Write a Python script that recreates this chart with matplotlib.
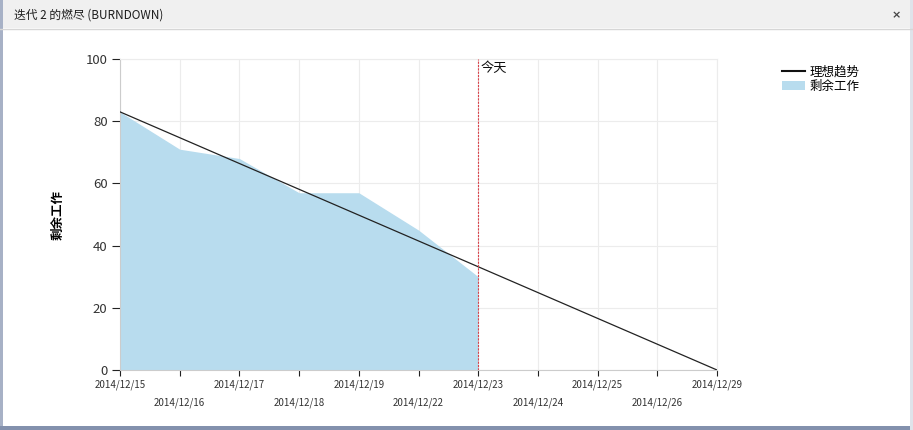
import matplotlib
matplotlib.use("Agg")
import matplotlib.pyplot as plt
from matplotlib.patches import Rectangle
from matplotlib.lines import Line2D
from matplotlib.patches import Patch

plt.rcParams['font.family'] = ['Noto Sans CJK SC', 'DejaVu Sans']

# Data
dates = ["2014/12/15", "2014/12/16", "2014/12/17", "2014/12/18", "2014/12/19",
         "2014/12/22", "2014/12/23", "2014/12/24", "2014/12/25", "2014/12/26",
         "2014/12/29"]
remaining = [83, 71, 68, 57, 57, 45, 30]
ideal_ends = [83, 0]
today = "2014/12/23"
y_ticks = [0, 20, 40, 60, 80, 100]

W, H = 913, 430
fig = plt.figure(figsize=(W / 100, H / 100), dpi=100)
fig.patch.set_facecolor("white")

# window chrome
fig.add_artist(Rectangle((0, 1 - 28 / H), 1, 28 / H, transform=fig.transFigure,
                         facecolor="#f0f0f0", edgecolor="none", zorder=0))
fig.add_artist(Line2D([0, 1], [1 - 28.5 / H] * 2, transform=fig.transFigure,
                      color="#d6d6d6", lw=1))
fig.add_artist(Rectangle((0, 0), 3 / W, 1, transform=fig.transFigure,
                         facecolor="#a7b1c6", edgecolor="none"))
fig.add_artist(Rectangle((0, 0), 1, 4 / H, transform=fig.transFigure,
                         facecolor="#8391ad", edgecolor="none"))
fig.add_artist(Rectangle((1 - 3 / W, 0), 3 / W, 1, transform=fig.transFigure,
                         facecolor="#dfe3ea", edgecolor="none"))
fig.text(14 / W, 1 - 15 / H, "迭代 2 的燃尽 (BURNDOWN)", fontsize=8.5,
         color="#1e1e1e", va="center", ha="left")
fig.text(896 / W, 1 - 15 / H, "×", fontsize=8, fontweight="bold",
         color="#444444", va="center", ha="center", family="DejaVu Sans")

ax = fig.add_axes([120 / W, (H - 370) / H, (717 - 120) / W, (370 - 59) / H])
x = list(range(len(dates)))

ax.fill_between(x[:len(remaining)], remaining, 0, color="#b8dcee",
                linewidth=0, zorder=2)
ax.plot([x[0], x[-1]], ideal_ends, color="#222222", lw=0.9, zorder=3)
ti = dates.index(today)
ax.axvline(ti, color="#d9434a", lw=0.8, ls=(0, (2, 1)), zorder=4)
ax.text(ti + 0.04, 99, "今天", fontsize=9.5, va="top", ha="left", color="#111111")

ax.set_xlim(0, len(dates) - 1)
ax.set_ylim(0, 100)
ax.set_yticks(y_ticks)
ax.set_yticklabels([str(v) for v in y_ticks], fontsize=9.5, color="#333333")
ax.set_xticks(x)
ax.set_xticklabels(dates, fontsize=7, color="#333333")
for i, t in enumerate(ax.xaxis.get_major_ticks()):
    t.set_pad(3 if i % 2 == 0 else 16)
ax.tick_params(axis="x", length=4, width=0.8, color="#222222")
ax.tick_params(axis="y", length=6, width=0.8, color="#222222", pad=3)

ax.grid(True, color="#ececec", lw=0.8, zorder=0)
ax.set_axisbelow(True)
for s in ["top", "right"]:
    ax.spines[s].set_color("#ececec")
for s in ["left", "bottom"]:
    ax.spines[s].set_color("#cccccc")
    ax.spines[s].set_linewidth(0.8)

fig.text(58 / W, 1 - 215 / H, "剩余工作", rotation=90, fontsize=9,
         fontweight="bold", va="center", ha="center")

handles = [Line2D([0], [0], color="#111111", lw=1.5),
           Patch(facecolor="#b8dcee", edgecolor="none")]
fig.legend(handles, ["理想趋势", "剩余工作"], loc="upper left",
           bbox_to_anchor=(777 / W, 1 - 61 / H), frameon=False, fontsize=9,
           handlelength=1.8, handleheight=0.8, handletextpad=0.4,
           labelspacing=0.05, borderaxespad=0)

fig.savefig("out.png", dpi=100)
